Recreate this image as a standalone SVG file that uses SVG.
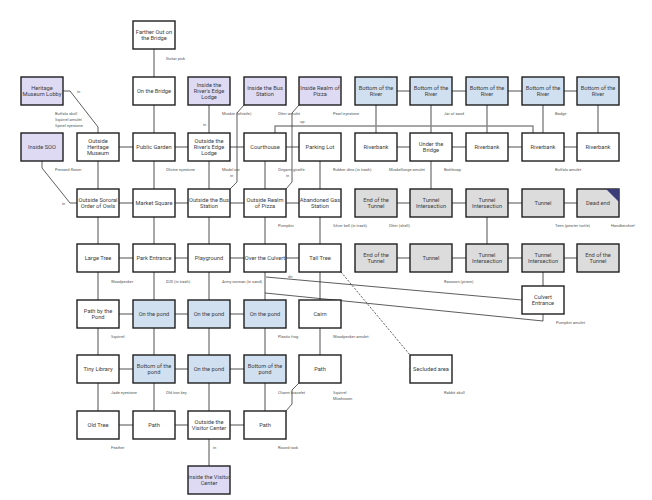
<svg xmlns="http://www.w3.org/2000/svg" width="652" height="500" viewBox="0 0 652 500">
<style>
.n rect{stroke:#1e1e1e;stroke-width:1.4;fill:#fff}
.lav rect{fill:#dedaf4}
.blu rect{fill:#d0e0f1}
.gry rect{fill:#dcdcdc}
.n text{font-family:Roboto,"Liberation Sans",sans-serif;font-size:5.7px;fill:#3c3c3c;text-anchor:middle}
.c{stroke:#8a8a8a;stroke-width:1.5;fill:none}
.d{stroke:#333;stroke-width:0.8;fill:none}
.ds{stroke:#333;stroke-width:0.8;fill:none;stroke-dasharray:2 1.5}
.l text{font-family:Roboto,"Liberation Sans",sans-serif;font-size:4px;fill:#555}
</style>
<rect width="652" height="500" fill="#fff"/>
<g id="connectors">
<path class="c" d="M397,91H410M452,91H466M508,91H522M564,91H577"/>
<path class="c" d="M119,147H133M175,147H188M230,147H244M286,147H299M397,147H410M452,147H466M508,147H522M564,147H577"/>
<path class="c" d="M119,203H133M175,203H188M230,203H244M286,203H299M397,203H410M452,203H466M508,203H522M564,203H577"/>
<path class="c" d="M119,258H133M175,258H188M230,258H244M286,258H299M397,258H410M452,258H466M508,258H522M564,258H577"/>
<path class="c" d="M119,314H133M175,314H188M230,314H244"/>
<path class="c" d="M119,369H133M175,369H188M230,369H244"/>
<path class="c" d="M119,425H133M175,425H188M230,425H244"/>
<path class="c" d="M98,161V189M98,217V244M98,272V300M98,328V355M98,383V411"/>
<path class="c" d="M154,49V77M154,105V133M154,161V189M154,217V244M154,272V300M154,328V355M154,383V411"/>
<path class="c" d="M209,105V133M209,161V189M209,217V244M209,272V300M209,328V355M209,383V411M209,439V466"/>
<path class="c" d="M265,161V189M265,217V244M265,272V300M265,328V355M265,383V411"/>
<path class="c" d="M320,161V189M320,217V244M320,272V300M320,328V355"/>
<path class="c" d="M376,105V133M431,105V133M431,161V189M487,105V133M487,217V244M543,105V133M543,272V286M598,105V133"/>
<path class="c" d="M275,133V126H533V133"/>
<path class="d" d="M63,91H70L98,127V133"/>
<path class="d" d="M42,161V168L70,203H77"/>
<path class="d" d="M244,105L237,113V182L230,189"/>
<path class="d" d="M299,105L292,113V182L286,189"/>
<path class="d" d="M299,383L292,390V404L286,411"/>
<path class="d" d="M266,277L522,300"/>
<path class="d" d="M265,293L543,321V314"/>
<path class="ds" d="M341,272L410,355"/>
</g>
<g id="farther-out" class="n"><rect x="133" y="21" width="42" height="28"/><text x="154" y="34">Farther Out on</text><text x="154" y="40">the Bridge</text></g>
<g id="heritage-lobby" class="n lav"><rect x="21" y="77" width="42" height="28"/><text x="42" y="90">Heritage</text><text x="42" y="96">Museum Lobby</text></g>
<g id="on-the-bridge" class="n"><rect x="133" y="77" width="42" height="28"/><text x="154" y="93">On the Bridge</text></g>
<g id="inside-rivers-edge" class="n lav"><rect x="188" y="77" width="42" height="28"/><text x="209" y="87">Inside the</text><text x="209" y="93">River's Edge</text><text x="209" y="99">Lodge</text></g>
<g id="inside-bus" class="n lav"><rect x="244" y="77" width="42" height="28"/><text x="265" y="90">Inside the Bus</text><text x="265" y="96">Station</text></g>
<g id="inside-pizza" class="n lav"><rect x="299" y="77" width="42" height="28"/><text x="320" y="90">Inside Realm of</text><text x="320" y="96">Pizza</text></g>
<g id="bottom-river-1" class="n blu"><rect x="355" y="77" width="42" height="28"/><text x="376" y="90">Bottom of the</text><text x="376" y="96">River</text></g>
<g id="bottom-river-2" class="n blu"><rect x="410" y="77" width="42" height="28"/><text x="431" y="90">Bottom of the</text><text x="431" y="96">River</text></g>
<g id="bottom-river-3" class="n blu"><rect x="466" y="77" width="42" height="28"/><text x="487" y="90">Bottom of the</text><text x="487" y="96">River</text></g>
<g id="bottom-river-4" class="n blu"><rect x="522" y="77" width="42" height="28"/><text x="543" y="90">Bottom of the</text><text x="543" y="96">River</text></g>
<g id="bottom-river-5" class="n blu"><rect x="577" y="77" width="42" height="28"/><text x="598" y="90">Bottom of the</text><text x="598" y="96">River</text></g>
<g id="inside-soo" class="n lav"><rect x="21" y="133" width="42" height="28"/><text x="42" y="149">Inside SOO</text></g>
<g id="outside-heritage" class="n"><rect x="77" y="133" width="42" height="28"/><text x="98" y="143">Outside</text><text x="98" y="149">Heritage</text><text x="98" y="155">Museum</text></g>
<g id="public-garden" class="n"><rect x="133" y="133" width="42" height="28"/><text x="154" y="149">Public Garden</text></g>
<g id="outside-rivers-edge" class="n"><rect x="188" y="133" width="42" height="28"/><text x="209" y="143">Outside the</text><text x="209" y="149">River's Edge</text><text x="209" y="155">Lodge</text></g>
<g id="courthouse" class="n"><rect x="244" y="133" width="42" height="28"/><text x="265" y="149">Courthouse</text></g>
<g id="parking-lot" class="n"><rect x="299" y="133" width="42" height="28"/><text x="320" y="149">Parking Lot</text></g>
<g id="riverbank-1" class="n"><rect x="355" y="133" width="42" height="28"/><text x="376" y="149">Riverbank</text></g>
<g id="under-bridge" class="n"><rect x="410" y="133" width="42" height="28"/><text x="431" y="146">Under the</text><text x="431" y="152">Bridge</text></g>
<g id="riverbank-2" class="n"><rect x="466" y="133" width="42" height="28"/><text x="487" y="149">Riverbank</text></g>
<g id="riverbank-3" class="n"><rect x="522" y="133" width="42" height="28"/><text x="543" y="149">Riverbank</text></g>
<g id="riverbank-4" class="n"><rect x="577" y="133" width="42" height="28"/><text x="598" y="149">Riverbank</text></g>
<g id="outside-soo" class="n"><rect x="77" y="189" width="42" height="28"/><text x="98" y="202">Outside Sororal</text><text x="98" y="208">Order of Owls</text></g>
<g id="market-square" class="n"><rect x="133" y="189" width="42" height="28"/><text x="154" y="205">Market Square</text></g>
<g id="outside-bus" class="n"><rect x="188" y="189" width="42" height="28"/><text x="209" y="202">Outside the Bus</text><text x="209" y="208">Station</text></g>
<g id="outside-pizza" class="n"><rect x="244" y="189" width="42" height="28"/><text x="265" y="202">Outside Realm</text><text x="265" y="208">of Pizza</text></g>
<g id="gas-station" class="n"><rect x="299" y="189" width="42" height="28"/><text x="320" y="202">Abandoned Gas</text><text x="320" y="208">Station</text></g>
<g id="end-tunnel-1" class="n gry"><rect x="355" y="189" width="42" height="28"/><text x="376" y="202">End of the</text><text x="376" y="208">Tunnel</text></g>
<g id="tunnel-int-1" class="n gry"><rect x="410" y="189" width="42" height="28"/><text x="431" y="202">Tunnel</text><text x="431" y="208">Intersection</text></g>
<g id="tunnel-int-2" class="n gry"><rect x="466" y="189" width="42" height="28"/><text x="487" y="202">Tunnel</text><text x="487" y="208">Intersection</text></g>
<g id="tunnel-1" class="n gry"><rect x="522" y="189" width="42" height="28"/><text x="543" y="205">Tunnel</text></g>
<g id="dead-end" class="n gry"><rect x="577" y="189" width="42" height="28"/><polygon points="606,189 619,189 619,202" fill="#3b3d78"/><text x="598" y="205">Dead end</text></g>
<g id="large-tree" class="n"><rect x="77" y="244" width="42" height="28"/><text x="98" y="260">Large Tree</text></g>
<g id="park-entrance" class="n"><rect x="133" y="244" width="42" height="28"/><text x="154" y="260">Park Entrance</text></g>
<g id="playground" class="n"><rect x="188" y="244" width="42" height="28"/><text x="209" y="260">Playground</text></g>
<g id="over-culvert" class="n"><rect x="244" y="244" width="42" height="28"/><text x="265" y="260">Over the Culvert</text></g>
<g id="tall-tree" class="n"><rect x="299" y="244" width="42" height="28"/><text x="320" y="260">Tall Tree</text></g>
<g id="end-tunnel-2" class="n gry"><rect x="355" y="244" width="42" height="28"/><text x="376" y="257">End of the</text><text x="376" y="263">Tunnel</text></g>
<g id="tunnel-2" class="n gry"><rect x="410" y="244" width="42" height="28"/><text x="431" y="260">Tunnel</text></g>
<g id="tunnel-int-3" class="n gry"><rect x="466" y="244" width="42" height="28"/><text x="487" y="257">Tunnel</text><text x="487" y="263">Intersection</text></g>
<g id="tunnel-int-4" class="n gry"><rect x="522" y="244" width="42" height="28"/><text x="543" y="257">Tunnel</text><text x="543" y="263">Intersection</text></g>
<g id="end-tunnel-3" class="n gry"><rect x="577" y="244" width="42" height="28"/><text x="598" y="257">End of the</text><text x="598" y="263">Tunnel</text></g>
<g id="culvert-entrance" class="n"><rect x="522" y="286" width="42" height="28"/><text x="543" y="299">Culvert</text><text x="543" y="305">Entrance</text></g>
<g id="path-by-pond" class="n"><rect x="77" y="300" width="42" height="28"/><text x="98" y="313">Path by the</text><text x="98" y="319">Pond</text></g>
<g id="on-pond-1" class="n blu"><rect x="133" y="300" width="42" height="28"/><text x="154" y="316">On the pond</text></g>
<g id="on-pond-2" class="n blu"><rect x="188" y="300" width="42" height="28"/><text x="209" y="316">On the pond</text></g>
<g id="on-pond-3" class="n blu"><rect x="244" y="300" width="42" height="28"/><text x="265" y="316">On the pond</text></g>
<g id="cairn" class="n"><rect x="299" y="300" width="42" height="28"/><text x="320" y="316">Cairn</text></g>
<g id="tiny-library" class="n"><rect x="77" y="355" width="42" height="28"/><text x="98" y="371">Tiny Library</text></g>
<g id="bottom-pond-1" class="n blu"><rect x="133" y="355" width="42" height="28"/><text x="154" y="368">Bottom of the</text><text x="154" y="374">pond</text></g>
<g id="on-pond-4" class="n blu"><rect x="188" y="355" width="42" height="28"/><text x="209" y="371">On the pond</text></g>
<g id="bottom-pond-2" class="n blu"><rect x="244" y="355" width="42" height="28"/><text x="265" y="368">Bottom of the</text><text x="265" y="374">pond</text></g>
<g id="path-1" class="n"><rect x="299" y="355" width="42" height="28"/><text x="320" y="371">Path</text></g>
<g id="secluded-area" class="n"><rect x="410" y="355" width="42" height="28"/><text x="431" y="371">Secluded area</text></g>
<g id="old-tree" class="n"><rect x="77" y="411" width="42" height="28"/><text x="98" y="427">Old Tree</text></g>
<g id="path-2" class="n"><rect x="133" y="411" width="42" height="28"/><text x="154" y="427">Path</text></g>
<g id="outside-visitor" class="n"><rect x="188" y="411" width="42" height="28"/><text x="209" y="424">Outside the</text><text x="209" y="430">Visitor Center</text></g>
<g id="path-3" class="n"><rect x="244" y="411" width="42" height="28"/><text x="265" y="427">Path</text></g>
<g id="inside-visitor" class="n lav"><rect x="188" y="466" width="42" height="28"/><text x="209" y="479">Inside the Visitor</text><text x="209" y="485">Center</text></g>
<g id="labels" class="l">
<text x="166" y="59.5">Guitar pick</text>
<text x="77" y="92.5">in</text>
<text x="55" y="114.5">Buffalo skull</text>
<text x="55" y="120.5">Squirrel amulet</text>
<text x="55" y="126.5">Spinel eyestone</text>
<text x="203" y="125.5">in</text>
<text x="222" y="114.5">Muskie (whistle)</text>
<text x="278" y="114.5">Otter amulet</text>
<text x="300" y="122.5">up</text>
<text x="333" y="114.5">Pearl eyestone</text>
<text x="444" y="114.5">Jar of sand</text>
<text x="555" y="114.5">Badge</text>
<text x="55" y="170.5">Pressed flower</text>
<text x="166" y="170.5">Olivine eyestone</text>
<text x="222" y="170.5">Model car</text>
<text x="230" y="176.5">in</text>
<text x="278" y="170.5">Origami giraffe</text>
<text x="286" y="176.5">in</text>
<text x="333" y="170.5">Rubber dino (in trash)</text>
<text x="389" y="170.5">Muskellunge amulet</text>
<text x="444" y="170.5">Bottlecap</text>
<text x="555" y="170.5">Buffalo amulet</text>
<text x="62" y="204.5">in</text>
<text x="278" y="226.5">Pumpkin</text>
<text x="333" y="226.5">Silver bell (in trash)</text>
<text x="389" y="226.5">Otter (shell)</text>
<text x="555" y="226.5">Teen (pewter turtle)</text>
<text x="611" y="226.5">Handkerchief</text>
<text x="111" y="282.5">Woodpecker</text>
<text x="166" y="282.5">D20 (in trash)</text>
<text x="222" y="282.5">Army woman (in sand)</text>
<text x="288" y="277.5">dn</text>
<text x="444" y="282.5">Raccoon (prism)</text>
<text x="556" y="323.5">Pumpkin amulet</text>
<text x="111" y="337.5">Squirrel</text>
<text x="278" y="337.5">Plastic frog</text>
<text x="333" y="337.5">Woodpecker amulet</text>
<text x="111" y="393.5">Jade eyestone</text>
<text x="166" y="393.5">Old iron key</text>
<text x="278" y="393.5">Charm bracelet</text>
<text x="333" y="393.5">Squirrel</text>
<text x="333" y="399.5">Mushroom</text>
<text x="444" y="393.5">Rabbit skull</text>
<text x="111" y="448.5">Feather</text>
<text x="213" y="448.5">in</text>
<text x="278" y="448.5">Round rock</text>
</g>
</svg>
